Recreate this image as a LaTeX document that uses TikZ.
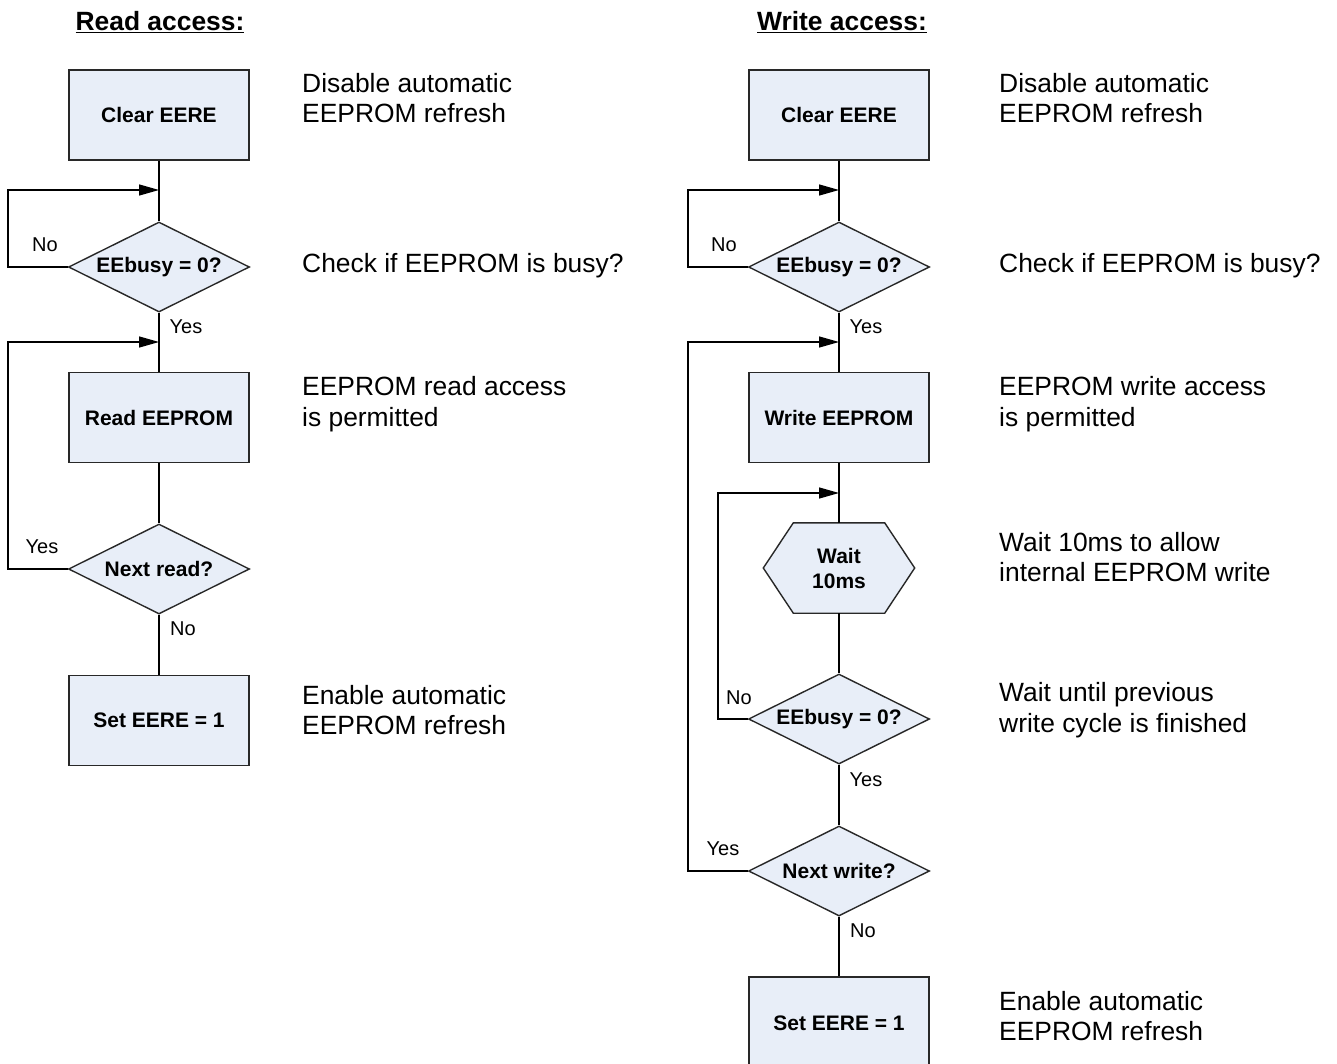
\documentclass[tikz,border=0pt]{standalone}
\usepackage{fontspec}
\setmainfont{Liberation Sans}
\usetikzlibrary{shapes.geometric,arrows.meta,backgrounds}
\definecolor{boxfill}{RGB}{232,238,248}
\definecolor{boxline}{RGB}{40,40,40}
\tikzset{
  procbox/.style={draw=boxline,line width=1.8pt,fill=boxfill,minimum width=180pt,minimum height=90pt,inner sep=0pt,font=\fontsize{21}{25}\selectfont\bfseries,align=center},
  decbox/.style={diamond,aspect=2,draw=boxline,line width=1.4pt,fill=boxfill,minimum width=181pt,minimum height=90pt,inner sep=0pt,font=\fontsize{21}{25}\selectfont\bfseries},
  hexbox/.style={minimum width=151pt,minimum height=90pt,inner sep=0pt,font=\fontsize{21}{25}\selectfont\bfseries,align=center},
  sidetext/.style={anchor=west,align=left,inner sep=0pt,font=\fontsize{26.4}{30.5}\selectfont},
  lbl/.style={inner sep=0pt,font=\fontsize{20}{24}\selectfont},
  ttl/.style={inner sep=0pt,font=\fontsize{26.4}{30}\selectfont\bfseries},
  conn/.style={line width=1.4pt,draw=black},
  arr/.style={conn,-{Triangle[length=20pt,width=11pt]}},
}
\begin{document}
\begin{tikzpicture}[x=1pt,y=-1pt]
\useasboundingbox (0,0) rectangle (1337,1063);
% ---------- Read access ----------
\node[ttl] (t1) at (160,22) {\underline{Read access:}};
\node[procbox] (r1) at (159,115) {Clear EERE};
\node[decbox] (r2) at (159,267) {EEbusy = 0?};
\node[procbox] (r3) at (159,417.5) {Read EEPROM};
\node[decbox] (r4) at (159,569) {Next read?};
\node[procbox] (r5) at (159,720.5) {Set EERE = 1};
\coordinate (rj1) at (159,190);
\coordinate (rj2) at (159,342);
\draw[conn] (r1) -- (r2);
\draw[conn] (r2) -- (r3);
\draw[conn] (r3) -- (r4);
\draw[conn] (r4) -- (r5);
\draw[arr] (r2.west) -- (8,267) |- (rj1);
\draw[arr] (r4.west) -- (8,569) |- (rj2);
\node[lbl] (rl1) at (45,245) {No};
\node[lbl] (rl2) at (186,327) {Yes};
\node[lbl] (rl3) at (42,547) {Yes};
\node[lbl] (rl4) at (183,629) {No};
\node[sidetext] (rs1) at (302,98) {Disable automatic\\EEPROM refresh};
\node[sidetext] (rs2) at (302,266) {Check if EEPROM is busy?};
\node[sidetext] (rs3) at (302,404) {EEPROM read access\\is permitted};
\node[sidetext] (rs4) at (302,710) {Enable automatic\\EEPROM refresh};
% ---------- Write access ----------
\node[ttl] (t2) at (842,22) {\underline{Write access:}};
\node[procbox] (w1) at (839,115) {Clear EERE};
\node[decbox] (w2) at (839,267) {EEbusy = 0?};
\node[procbox] (w3) at (839,417.5) {Write EEPROM};
\node[hexbox] (w4) at (839,568) {Wait\\10ms};
\begin{scope}[on background layer]
\draw[draw=boxline,line width=1.4pt,fill=boxfill] ([xshift=30pt]w4.north west) -- ([xshift=-30pt]w4.north east) -- (w4.east) -- ([xshift=-30pt]w4.south east) -- ([xshift=30pt]w4.south west) -- (w4.west) -- cycle;
\end{scope}
\node[decbox] (w5) at (839,719) {EEbusy = 0?};
\node[decbox] (w6) at (839,871) {Next write?};
\node[procbox,minimum height=92pt] (w7) at (839,1023) {Set EERE = 1};
\coordinate (wj1) at (839,190);
\coordinate (wj2) at (839,342);
\coordinate (wj3) at (839,493);
\draw[conn] (w1) -- (w2);
\draw[conn] (w2) -- (w3);
\draw[conn] (w3) -- (w4);
\draw[conn] (w4) -- (w5);
\draw[conn] (w5) -- (w6);
\draw[conn] (w6) -- (w7);
\draw[arr] (w2.west) -- (688,267) |- (wj1);
\draw[arr] (w6.west) -- (688,871) |- (wj2);
\draw[arr] (w5.west) -- (718,719) |- (wj3);
\node[lbl] (wl1) at (724,245) {No};
\node[lbl] (wl2) at (866,327) {Yes};
\node[lbl] (wl3) at (739,698) {No};
\node[lbl] (wl4) at (866,780) {Yes};
\node[lbl] (wl5) at (723,849) {Yes};
\node[lbl] (wl6) at (863,931) {No};
\node[sidetext] (ws1) at (999,98) {Disable automatic\\EEPROM refresh};
\node[sidetext] (ws2) at (999,266) {Check if EEPROM is busy?};
\node[sidetext] (ws3) at (999,404) {EEPROM write access\\is permitted};
\node[sidetext] (ws4) at (999,557) {Wait 10ms to allow\\internal EEPROM write};
\node[sidetext] (ws5) at (999,710) {Wait until previous\\write cycle is finished};
\node[sidetext] (ws6) at (999,1016) {Enable automatic\\EEPROM refresh};
\end{tikzpicture}
\end{document}
